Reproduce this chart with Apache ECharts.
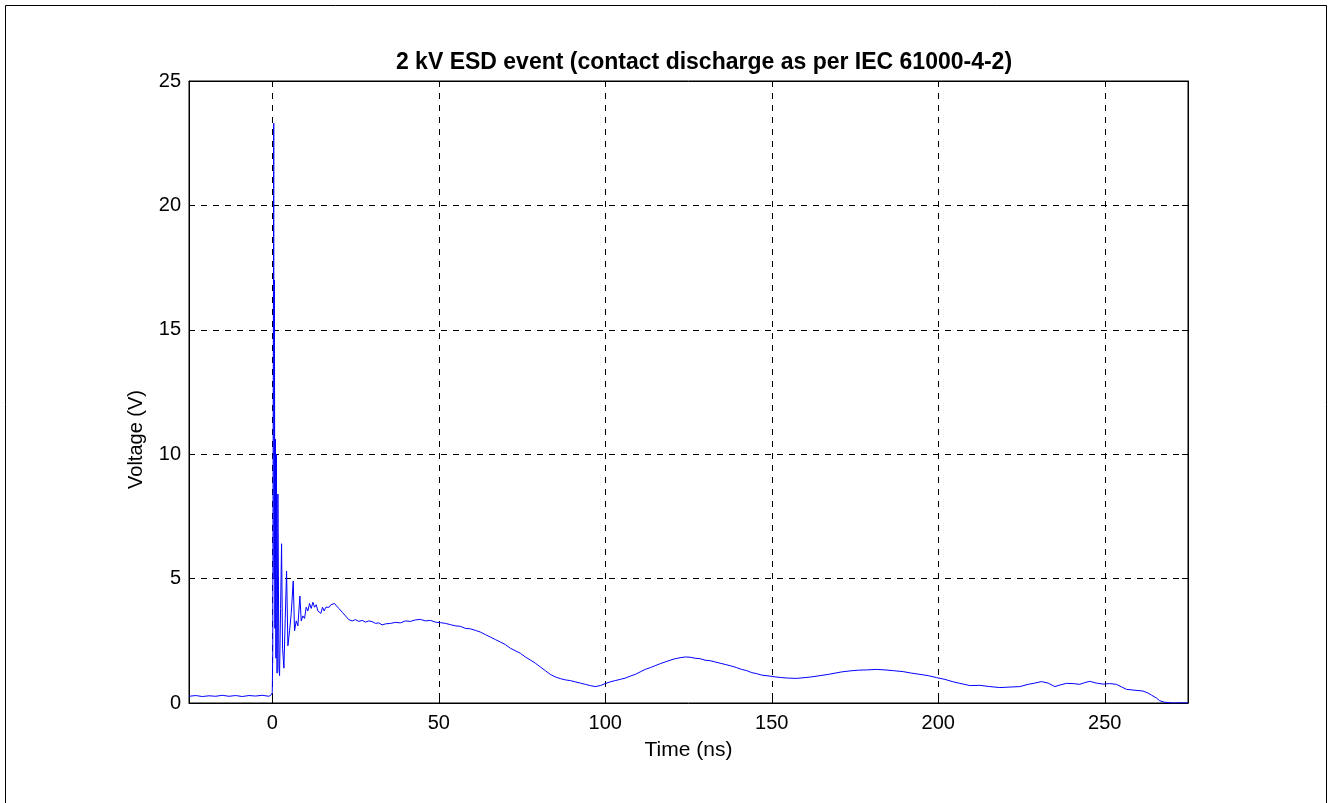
<!DOCTYPE html>
<html>
<head>
<meta charset="utf-8">
<script src="https://cdn.jsdelivr.net/npm/echarts@6/dist/echarts.min.js"></script>
<style>
  html, body { margin: 0; padding: 0; background: #fff; }
  #chart { width: 1330px; height: 803px; }
</style>
</head>
<body>
<div id="chart"></div>
<script>
// time in ns, voltage in V
const timeNs = [
  -25, -23, -21, -19, -17, -15, -13, -11, -9, -7, -5, -3, -1, -0.3, 0,
  0.15, 0.3, 0.45, 0.55, 0.65, 0.8, 0.95, 1.1, 1.25, 1.45, 1.7, 2.0, 2.2, 2.5, 2.8,
  3.1, 3.5, 3.9, 4.3, 4.7, 5.2, 5.7, 6.3, 6.7, 7.2, 7.7, 8.3, 8.7, 9.2, 9.7,
  10.2, 10.7, 11.2, 11.7, 12.2, 12.7, 13.2, 13.7, 14.2, 14.6, 15.1, 15.6, 16.1, 16.6,
  17.1, 17.6, 18.2, 18.7, 19.3, 20, 21, 22, 23, 24, 25, 26, 27, 28, 29, 30, 31, 32, 33, 34,
  35.5, 37, 38.5, 40, 41.5, 43, 44.5, 46, 47.5, 49, 50.5, 52, 53.5, 55, 56.5, 58, 59.5,
  61, 62.5, 64, 65.5, 67, 68.5, 70, 71.5, 73, 74.5, 76, 77.5, 79, 80.5, 82, 83.5, 85,
  86.5, 88, 89.5, 91, 92.5, 94, 95.5, 97, 98.5, 100, 101.5, 103, 104.5, 106, 107.5, 109,
  110.5, 112, 113.5, 115, 116.5, 118, 119.5, 121, 122.5, 124, 125.5, 127, 128.5, 130,
  131.5, 133, 134.5, 136, 137.5, 139.5, 141, 142.5, 144, 145.5, 147, 149.5, 151, 153,
  155, 157.5, 160, 162, 164.5, 167, 169, 171, 173.5, 176, 178.5, 181.5, 184, 186.5,
  189.5, 192, 194.5, 197, 199.5, 202, 204.5, 206.5, 209.5, 212.5, 215.5, 218.5, 221.5,
  224.5, 227, 229, 231, 233, 235, 236.5, 238.5, 240.5, 242.5, 244, 245.5, 247.5, 249.5,
  251.5, 253.5, 255, 256.5, 258.5, 261.5, 263, 264, 265.5, 266.5, 268, 270.5, 273, 275
];
const voltageV = [
  0.27, 0.30, 0.26, 0.29, 0.27, 0.31, 0.27, 0.30, 0.26, 0.30, 0.28, 0.31, 0.27, 0.33, 0.42,
  2.0, 12.5, 23.3, 5.0, 17.0, 3.0, 10.6, 1.8, 10.0, 1.2, 8.4, 1.4, 1.1, 3.8, 6.4,
  2.2, 1.4, 3.4, 5.3, 2.3, 2.9, 3.6, 4.9, 2.9, 3.3, 3.1, 4.3, 3.3, 3.5, 3.4,
  3.85, 3.7, 4.0, 3.8, 4.05, 3.85, 3.95, 3.7, 3.75, 3.6, 3.85, 3.7, 3.85, 3.9,
  3.85, 3.95, 3.9, 4.0, 3.9, 3.8, 3.65, 3.5, 3.35, 3.3, 3.35, 3.28, 3.32, 3.25, 3.3, 3.27, 3.2, 3.22, 3.14, 3.18,
  3.2, 3.24, 3.22, 3.3, 3.28, 3.34, 3.36, 3.3, 3.32, 3.25, 3.23, 3.2, 3.15, 3.1, 3.08, 3.0, 2.98,
  2.92, 2.85, 2.75, 2.65, 2.55, 2.45, 2.35, 2.2, 2.1, 2.0, 1.85, 1.73, 1.6, 1.45, 1.3, 1.15, 1.05,
  0.98, 0.93, 0.9, 0.85, 0.8, 0.75, 0.7, 0.66, 0.7, 0.78, 0.85, 0.9, 0.95, 1.0, 1.08, 1.15,
  1.25, 1.35, 1.42, 1.5, 1.58, 1.65, 1.72, 1.78, 1.82, 1.85, 1.84, 1.8, 1.78, 1.72,
  1.7, 1.65, 1.6, 1.55, 1.5, 1.42, 1.35, 1.3, 1.22, 1.18, 1.12, 1.08, 1.05, 1.02,
  1.0, 0.99, 1.02, 1.05, 1.1, 1.15, 1.2, 1.25, 1.29, 1.32, 1.33, 1.35, 1.33, 1.3,
  1.26, 1.2, 1.15, 1.1, 1.02, 0.95, 0.85, 0.79, 0.70, 0.71, 0.66, 0.62, 0.64,
  0.66, 0.75, 0.8, 0.86, 0.8, 0.66, 0.72, 0.79, 0.78, 0.75, 0.82, 0.87, 0.8, 0.76,
  0.78, 0.75, 0.65, 0.55, 0.52, 0.48, 0.4, 0.32, 0.2, 0.09, 0.03, 0, 0.01, 0
];
const xTicks = [0, 50, 100, 150, 200, 250];

const chart = echarts.init(document.getElementById('chart'), null, { renderer: 'canvas' });

const font = 'Liberation Sans, Arial, sans-serif';
const gridDash = { color: '#000', type: [6, 6], width: 1 };

const option = {
  backgroundColor: '#fff',
  animation: false,
  title: {
    text: '2 kV ESD event (contact discharge as per IEC 61000-4-2)',
    left: 699, top: 46, textAlign: 'center',
    textStyle: { fontFamily: font, fontSize: 23, fontWeight: 'bold', color: '#000' }
  },
  graphic: [{
    type: 'rect', silent: true,
    shape: { x: 5.5, y: 5.5, width: 1321, height: 820 },
    style: { fill: 'none', stroke: '#000', lineWidth: 1 }
  }, {
    type: 'text', left: 126, top: 390, rotation: Math.PI / 2, silent: true,
    style: { text: 'Voltage (V)', fontFamily: font, fontSize: 20, fill: '#000' }
  }],
  grid: { left: 189, right: 142, top: 81, bottom: 100, show: true, borderColor: '#000', borderWidth: 1, backgroundColor: '#fff' },
  xAxis: [{
    type: 'value', min: -25, max: 275, position: 'bottom',
    name: 'Time (ns)', nameLocation: 'middle', nameGap: 37,
    nameTextStyle: { fontFamily: font, fontSize: 21, color: '#000' },
    axisLine: { onZero: false, lineStyle: { color: '#000' } },
    axisTick: { inside: true, length: 6, customValues: xTicks, lineStyle: { color: '#000' } },
    axisLabel: { customValues: xTicks, fontFamily: font, fontSize: 20, color: '#000', margin: 10 },
    splitLine: { show: true, lineStyle: gridDash }
  }, {
    type: 'value', min: -25, max: 275, position: 'top',
    axisLine: { onZero: false, lineStyle: { color: '#000' } },
    axisTick: { inside: true, length: 6, customValues: xTicks, lineStyle: { color: '#000' } },
    axisLabel: { show: false },
    splitLine: { show: false }
  }],
  yAxis: [{
    type: 'value', min: 0, max: 25, interval: 5, position: 'left',
    axisLine: { show: true, onZero: false, lineStyle: { color: '#000' } },
    axisTick: { show: true, inside: true, length: 6, lineStyle: { color: '#000' } },
    axisLabel: { fontFamily: font, fontSize: 20, color: '#000', margin: 8 },
    splitLine: { show: true, lineStyle: gridDash }
  }, {
    type: 'value', min: 0, max: 25, interval: 5, position: 'right',
    axisLine: { show: true, onZero: false, lineStyle: { color: '#000' } },
    axisTick: { show: true, inside: true, length: 6, lineStyle: { color: '#000' } },
    axisLabel: { show: false },
    splitLine: { show: false }
  }],
  series: [{
    type: 'line',
    xAxisIndex: 0, yAxisIndex: 0,
    data: timeNs.map((t, i) => [t, voltageV[i]]),
    showSymbol: false,
    sampling: null,
    lineStyle: { color: '#0000ff', width: 1 },
    z: 5
  }]
};

chart.setOption(option);
</script>
</body>
</html>
